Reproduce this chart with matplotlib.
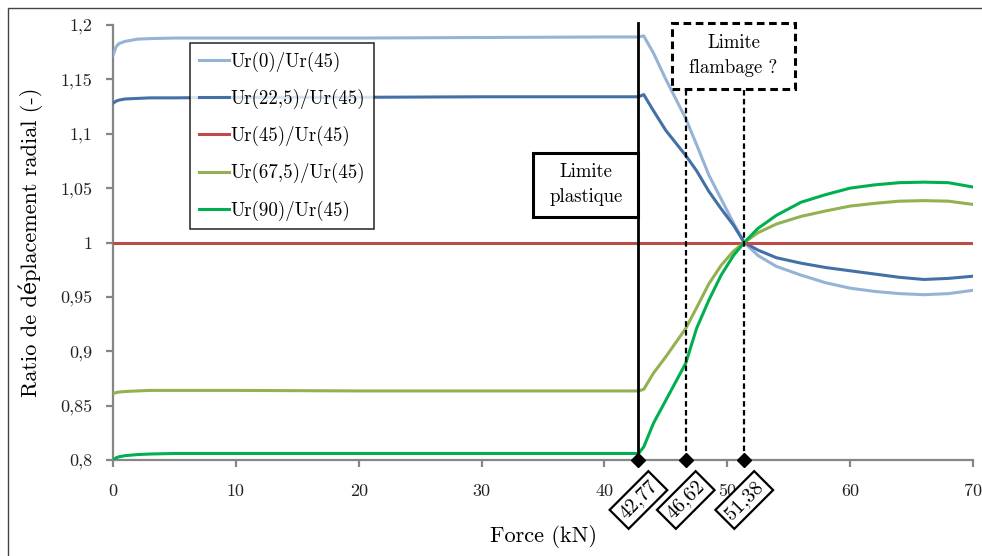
import matplotlib
matplotlib.use("Agg")
import matplotlib.pyplot as plt
from matplotlib.patches import Rectangle

plt.rcParams['font.family'] = ['cmr10', 'DejaVu Serif']
plt.rcParams['axes.formatter.use_mathtext'] = True

# ---- data ----
force = [0, 0.25, 0.5, 1, 2, 3, 5, 10, 20, 30, 40, 42.77, 43.2, 44, 45, 46.62,
         47.5, 48.5, 49.5, 50.5, 51.38, 52.5, 54, 56, 58, 60, 62, 64, 66, 68, 70]
ur0 = [1.172, 1.180, 1.183, 1.185, 1.187, 1.1875, 1.188, 1.188, 1.188, 1.1885, 1.189, 1.189,
       1.190, 1.174, 1.150, 1.114, 1.090, 1.062, 1.040, 1.018, 1.000, 0.988, 0.978, 0.970,
       0.963, 0.958, 0.955, 0.953, 0.952, 0.953, 0.956]
ur22 = [1.128, 1.130, 1.131, 1.132, 1.1325, 1.133, 1.133, 1.1335, 1.1335, 1.134, 1.134, 1.134,
        1.136, 1.121, 1.103, 1.080, 1.066, 1.047, 1.031, 1.016, 1.000, 0.993, 0.986, 0.981,
        0.977, 0.974, 0.971, 0.968, 0.966, 0.967, 0.969]
ur45 = [1.0] * len(force)
ur67 = [0.861, 0.862, 0.8625, 0.863, 0.8635, 0.864, 0.864, 0.864, 0.8635, 0.8635, 0.8635, 0.8635,
        0.865, 0.880, 0.895, 0.921, 0.940, 0.962, 0.979, 0.992, 1.000, 1.009, 1.017, 1.024,
        1.029, 1.0335, 1.036, 1.038, 1.0385, 1.038, 1.035]
ur90 = [0.800, 0.802, 0.803, 0.804, 0.805, 0.8055, 0.806, 0.806, 0.806, 0.806, 0.806, 0.806,
        0.812, 0.834, 0.855, 0.889, 0.921, 0.947, 0.970, 0.988, 1.000, 1.013, 1.025, 1.037,
        1.044, 1.050, 1.053, 1.055, 1.0555, 1.055, 1.051]
series = [ur0, ur22, ur45, ur67, ur90]
labels = ['Ur(0)/Ur(45)', 'Ur(22,5)/Ur(45)', 'Ur(45)/Ur(45)', 'Ur(67,5)/Ur(45)', 'Ur(90)/Ur(45)']
colors = ['#95B3D7', '#4470A8', '#BE4B48', '#93B150', '#00B050']

limits = [42.77, 46.62, 51.38]
limit_labels = ['42,77', '46,62', '51,38']

xticks = [0, 10, 20, 30, 40, 50, 60, 70]
xticklabels = ['0', '10', '20', '30', '40', '50', '60', '70']
yticks = [0.8, 0.85, 0.9, 0.95, 1.0, 1.05, 1.1, 1.15, 1.2]
yticklabels = ['0,8', '0,85', '0,9', '0,95', '1', '1,05', '1,1', '1,15', '1,2']

# ---- figure ----
W, H = 982, 556
fig = plt.figure(figsize=(W / 100, H / 100), dpi=100)
ax = fig.add_axes([113 / W, (H - 460) / H, 860 / W, 435 / H])

for s, lab, c in zip(series, labels, colors):
    ax.plot(force, s, color=c, lw=2.2, label=lab, zorder=3)

ax.set_xlim(0, 70)
ax.set_ylim(0.8, 1.2)
ax.set_xticks(xticks)
ax.set_xticklabels(xticklabels)
ax.set_yticks(yticks)
ax.set_yticklabels(yticklabels)
for sp in ['top', 'right']:
    ax.spines[sp].set_visible(False)
for sp in ['left', 'bottom']:
    ax.spines[sp].set_color('#868686')
    ax.spines[sp].set_linewidth(1.6)
ax.tick_params(axis='both', direction='out', length=5, width=1.6, color='#868686',
               labelsize=13, labelcolor='#222222')
ax.tick_params(axis='x', pad=12)
ax.tick_params(axis='y', pad=10)

ax.set_xlabel('Force (kN)', fontsize=16, labelpad=19)
ax.set_ylabel('Ratio de déplacement radial (-)', fontsize=16, labelpad=12)

# plastic limit
ax.plot([limits[0], limits[0]], [0.8, 1.202], color='black', lw=2, zorder=4, clip_on=False)
# buckling limits
box_top, box_bot = 1.2018, 1.1412
for xv in limits[1:]:
    ax.plot([xv, xv], [0.8, box_bot], color='black', lw=1.6, ls=(0, (2.5, 1.5)), zorder=4)

# boxes
r1 = Rectangle((34.2, 1.0235), limits[0] - 34.2, 1.0823 - 1.0235, fc='white', ec='black',
               lw=2.2, zorder=5)
ax.add_patch(r1)
ax.text((34.2 + limits[0]) / 2, (1.0235 + 1.0823) / 2, 'Limite\nplastique', ha='center',
        va='center', fontsize=13.5, linespacing=1.5, zorder=6)
r2 = Rectangle((45.5, box_bot), 10.0, box_top - box_bot, fc='white', ec='black', lw=2.2,
               ls=(0, (2.5, 1.5)), zorder=5, clip_on=False)
ax.add_patch(r2)
ax.text(50.5, (box_top + box_bot) / 2, 'Limite\nflambage ?', ha='center', va='center',
        fontsize=13.5, linespacing=1.5, zorder=6)

# diamonds and labels
ax.plot(limits, [0.8] * len(limits), 'D', color='black', ms=7, clip_on=False, zorder=7)
for xv, lab in zip(limits, limit_labels):
    ax.annotate(lab, xy=(xv, 0.8), xytext=(0, -40), textcoords='offset pixels',
                rotation=45, ha='center', va='center', fontsize=14.5,
                bbox=dict(boxstyle='square,pad=0.22', fc='white', ec='black', lw=1.6),
                annotation_clip=False, zorder=8)

leg = ax.legend(loc='upper left', bbox_to_anchor=((190 - 113) / 860, (460 - 43) / 435),
                borderaxespad=0, fontsize=13.6, frameon=True, fancybox=False,
                handlelength=1.6, handletextpad=0.1, labelspacing=0.9, borderpad=0.45)
leg.get_frame().set_edgecolor('black')
leg.get_frame().set_linewidth(1.2)
leg.set_zorder(9)

fig.patches.append(Rectangle((8 / W, -10 / H), (W + 20) / W, (H + 10 - 8) / H,
                             transform=fig.transFigure, fill=False, ec='#444444', lw=1))

fig.savefig('out.png', dpi=100)
